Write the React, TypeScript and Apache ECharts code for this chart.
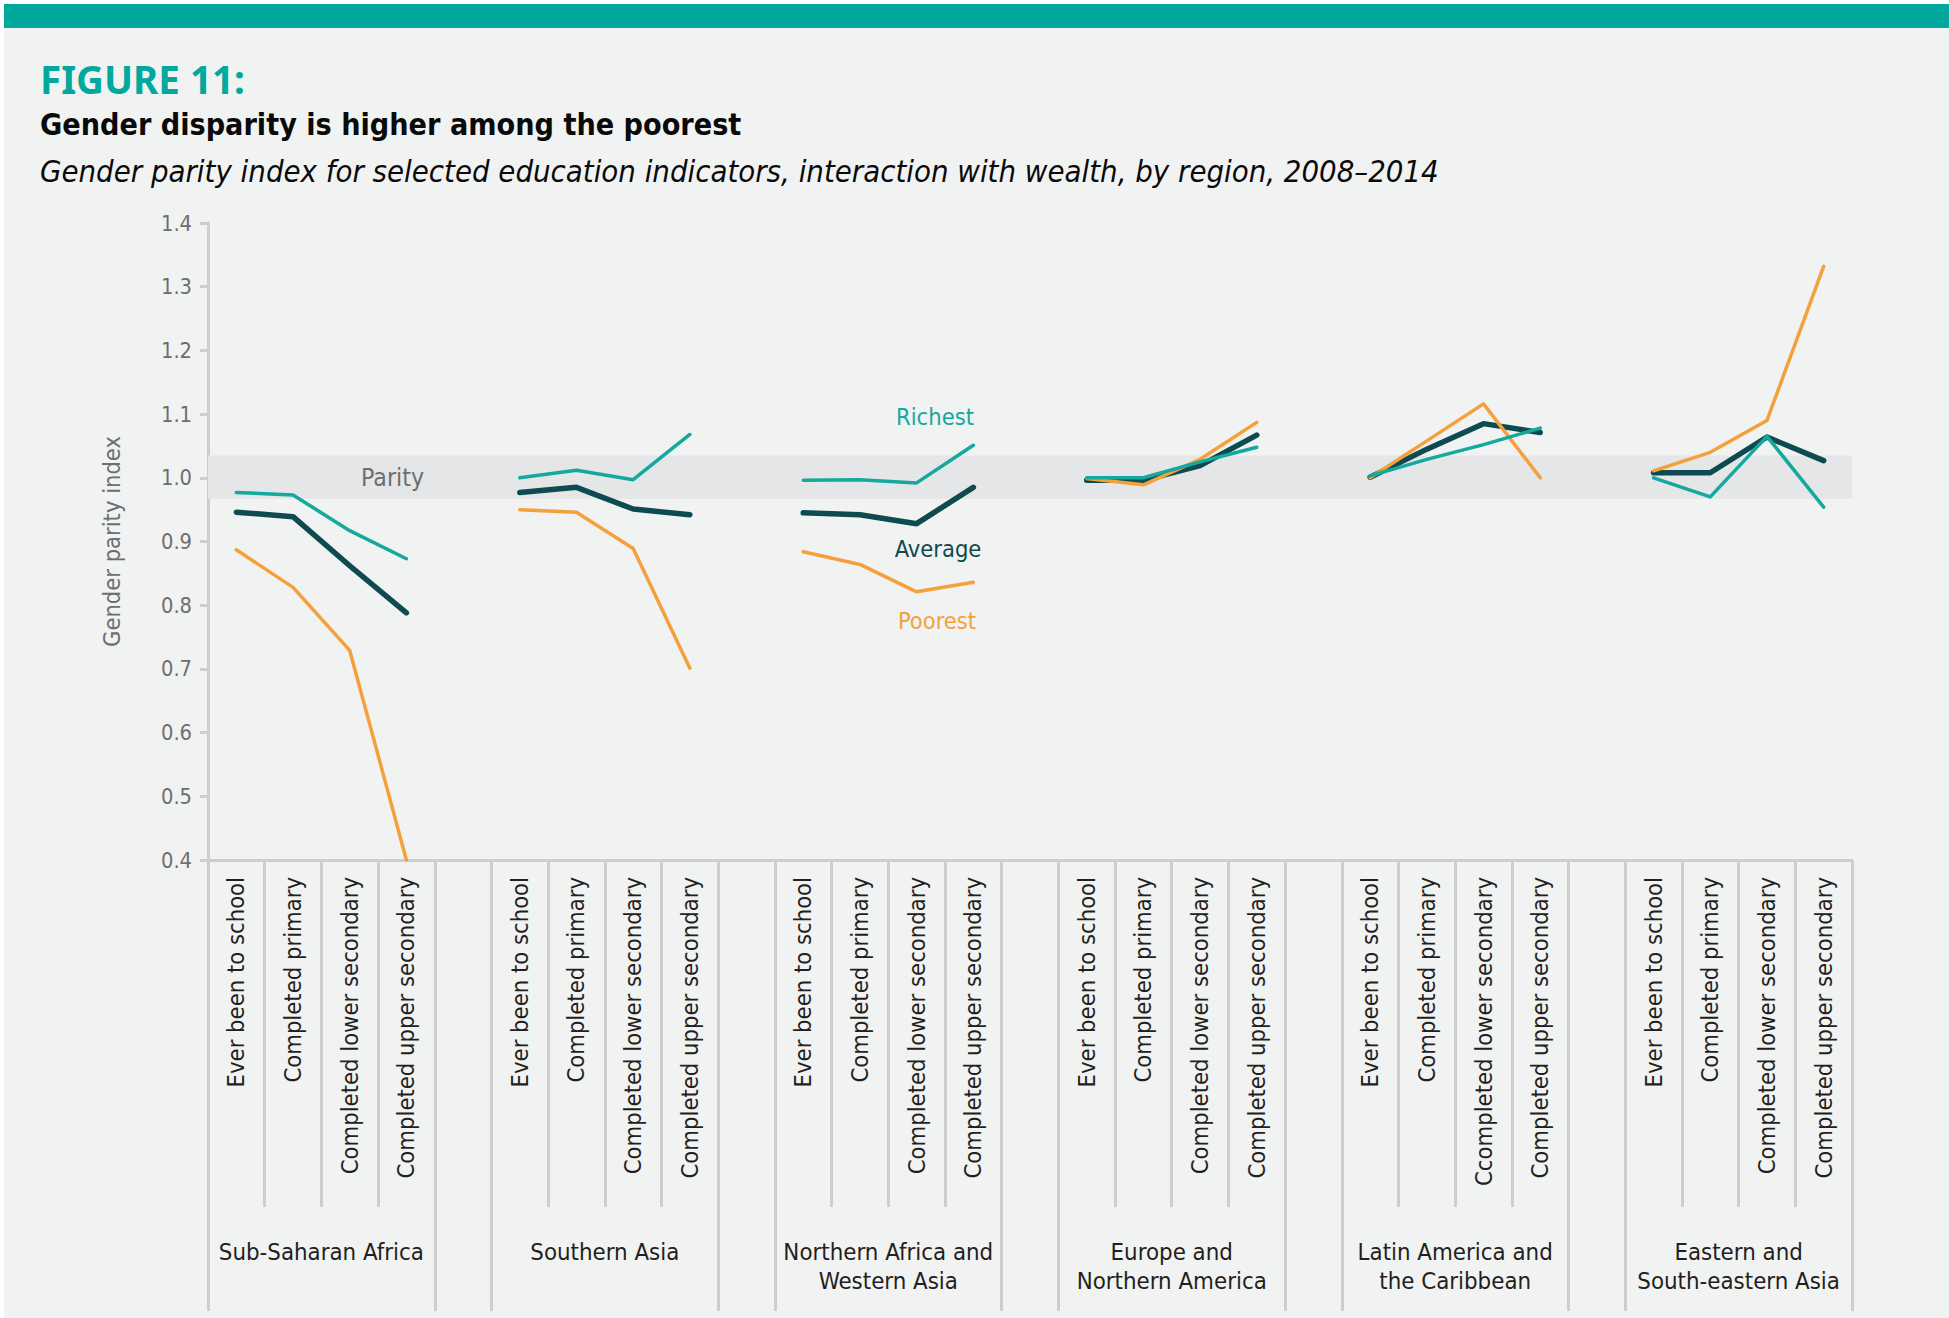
import React, { useEffect, useRef } from "react";
import * as echarts from "echarts";

const regions = [
  "Sub-Saharan Africa",
  "Southern Asia",
  "Northern Africa and\nWestern Asia",
  "Europe and\nNorthern America",
  "Latin America and\nthe Caribbean",
  "Eastern and\nSouth-eastern Asia",
];

// 29 slots: 6 groups of 4 indicators, separated by an empty slot
const categories: string[] = [
  "Ever been to school", "Completed primary", "Completed lower secondary", "Completed upper secondary", "",
  "Ever been to school", "Completed primary", "Completed lower secondary", "Completed upper secondary", "",
  "Ever been to school", "Completed primary", "Completed lower secondary", "Completed upper secondary", "",
  "Ever been to school", "Completed primary", "Completed lower secondary", "Completed upper secondary", "",
  "Ever been to school", "Completed primary", "Ccompleted lower secondary", "Completed upper secondary", "",
  "Ever been to school", "Completed primary", "Completed lower secondary", "Completed upper secondary",
];

const richest = [
  0.977, 0.973, 0.917, 0.873, null,
  1.0, 1.012, 0.997, 1.068, null,
  0.996, 0.997, 0.992, 1.051, null,
  1.0, 1.0, 1.025, 1.048, null,
  1.003, 1.029, 1.052, 1.078, null,
  1.0, 0.97, 1.065, 0.954,
];

const average = [
  0.946, 0.939, 0.862, 0.788, null,
  0.977, 0.985, 0.951, 0.942, null,
  0.945, 0.942, 0.928, 0.985, null,
  0.996, 0.996, 1.019, 1.067, null,
  1.001, 1.045, 1.085, 1.071, null,
  1.008, 1.008, 1.064, 1.027,
];

const poorest = [
  0.887, 0.828, 0.729, 0.4, null,
  0.95, 0.946, 0.889, 0.701, null,
  0.884, 0.864, 0.821, 0.836, null,
  0.999, 0.989, 1.029, 1.087, null,
  1.0, 1.058, 1.116, 1.0, null,
  1.011, 1.04, 1.09, 1.332,
];

const parityBand = [0.967, 1.035];
const yTicks = [0.4, 0.5, 0.6, 0.7, 0.8, 0.9, 1.0, 1.1, 1.2, 1.3, 1.4];

// half-slot axis (boundaries) used for tick lines and region labels
const halfSlots: string[] = Array.from({ length: 59 }, (_, k) =>
  k % 10 === 4 ? regions[(k - 4) / 10] : ""
);

const FONT = "'Liberation Sans Narrow', 'Noto Sans Condensed', 'DejaVu Sans Condensed', 'DejaVu Sans', sans-serif";
const HEAD_FONT = "'Noto Sans', 'Open Sans', sans-serif";
const TEAL = "#14A89E";
const DARK = "#0D4B50";
const ORANGE = "#F5A03B";
const GRID_GRAY = "#CDCECF";
const TEXT_GRAY = "#6D6E71";
const TEXT_DARK = "#231F20";

function fit(text: string, target: number, weight = "normal", style = "normal", family = FONT) {
  const ctx = document.createElement("canvas").getContext("2d");
  if (!ctx) return 24;
  ctx.font = `${style} ${weight} 100px ${family}`;
  const w = ctx.measureText(text).width || 1;
  return Math.round((target / w) * 1000) / 10;
}

export default function App() {
  const ref = useRef<HTMLDivElement>(null);

  useEffect(() => {
    document.body.style.margin = "0";
    if (!ref.current) return;
    const chart = echarts.init(ref.current, undefined, { renderer: "svg" });

    const figSize = fit("FIGURE 11:", 205, "bold", "normal", HEAD_FONT);
    const titleSize = fit("Gender disparity is higher among the poorest", 701, "bold");
    const subtitle =
      "Gender parity index for selected education indicators, interaction with wealth, by region, 2008\u20132014";
    const subSize = fit(subtitle, 1397, "normal", "italic");
    const catSize = fit("Completed upper secondary", 302);
    const regionSize = fit("Sub-Saharan Africa", 205);
    const labelSize = fit("Richest", 78);
    const paritySize = fit("Parity", 63);
    const nameSize = fit("Gender parity index", 211);
    const tickSize = fit("0.8", 31);

    const lineSeries = (name: string, data: (number | null)[], color: string, width: number, z: number) => ({
      name,
      type: "line",
      data,
      xAxisIndex: 0,
      yAxisIndex: 0,
      symbol: "none",
      connectNulls: false,
      z,
      lineStyle: { color, width, cap: "round", join: "round" },
    });

    const option: any = {
      animation: false,
      backgroundColor: "#F1F2F2",
      textStyle: { fontFamily: FONT },
      grid: { left: 208, right: 97, top: 223, bottom: 458, containLabel: false },
      xAxis: [
        {
          type: "category",
          position: "bottom",
          data: categories,
          boundaryGap: true,
          axisLine: { show: true, lineStyle: { color: GRID_GRAY, width: 3 } },
          axisTick: { show: false },
          axisLabel: {
            interval: 0,
            rotate: 90,
            margin: 17,
            fontSize: catSize,
            color: TEXT_DARK,
            fontFamily: FONT,
          },
          splitLine: { show: false },
        },
        {
          type: "category",
          position: "bottom",
          data: halfSlots,
          boundaryGap: false,
          axisLine: { show: false },
          axisTick: {
            show: true,
            length: 347,
            interval: (k: number) => k % 10 === 2 || k % 10 === 4 || k % 10 === 6,
            lineStyle: { color: GRID_GRAY, width: 3 },
          },
          axisLabel: { show: false },
          splitLine: { show: false },
        },
        {
          type: "category",
          position: "bottom",
          data: halfSlots,
          boundaryGap: false,
          axisLine: { show: false },
          axisTick: {
            show: true,
            length: 451,
            interval: (k: number) => k % 10 === 0 || k % 10 === 8,
            lineStyle: { color: GRID_GRAY, width: 3 },
          },
          axisLabel: {
            interval: 0,
            margin: 377,
            fontSize: regionSize,
            lineHeight: 29,
            color: TEXT_DARK,
            fontFamily: FONT,
            align: "center",
            verticalAlign: "top",
          },
          splitLine: { show: false },
        },
      ],
      yAxis: {
        type: "value",
        min: yTicks[0],
        max: yTicks[yTicks.length - 1],
        interval: 0.1,
        name: "Gender parity index",
        nameLocation: "middle",
        nameRotate: 90,
        nameGap: 84,
        nameTextStyle: { fontSize: nameSize, color: TEXT_GRAY, fontFamily: FONT },
        axisLine: { show: true, lineStyle: { color: GRID_GRAY, width: 3 } },
        axisTick: { show: true, length: 8, lineStyle: { color: GRID_GRAY, width: 3 } },
        axisLabel: {
          fontSize: tickSize,
          color: TEXT_GRAY,
          margin: 16,
          fontFamily: FONT,
          formatter: (v: number) => v.toFixed(1),
        },
        splitLine: { show: false },
      },
      series: [
        {
          ...lineSeries("Average", average, DARK, 5.5, 3),
          markArea: {
            silent: true,
            itemStyle: { color: "#E5E6E7" },
            label: {
              show: true,
              position: "insideLeft",
              distance: 153,
              fontSize: paritySize,
              color: TEXT_GRAY,
              fontFamily: FONT,
            },
            data: [[{ yAxis: parityBand[0], name: "Parity" }, { yAxis: parityBand[1] }]],
          },
        },
        lineSeries("Poorest", poorest, ORANGE, 3.5, 4),
        lineSeries("Richest", richest, TEAL, 3.5, 5),
      ],
      graphic: [
        { type: "rect", shape: { x: 0, y: 0, width: 4, height: 1318 }, style: { fill: "#FFFFFF" }, silent: true },
        { type: "rect", shape: { x: 0, y: 0, width: 1949, height: 4 }, style: { fill: "#FFFFFF" }, silent: true },
        { type: "rect", shape: { x: 4, y: 4, width: 1945, height: 24 }, style: { fill: "#00A89D" }, silent: true },
        {
          type: "text",
          x: 40,
          y: 79,
          style: {
            text: "FIGURE 11:",
            fontSize: figSize,
            fontWeight: "bold",
            fill: "#00A89D",
            fontFamily: HEAD_FONT,
            verticalAlign: "middle",
          },
        },
        {
          type: "text",
          x: 40,
          y: 124,
          style: {
            text: "Gender disparity is higher among the poorest",
            fontSize: titleSize,
            fontWeight: "bold",
            fill: "#0A0A0A",
            fontFamily: FONT,
            verticalAlign: "middle",
          },
        },
        {
          type: "text",
          x: 40,
          y: 171,
          style: {
            text: subtitle,
            fontSize: subSize,
            fontStyle: "italic",
            fill: "#0A0A0A",
            fontFamily: FONT,
            verticalAlign: "middle",
          },
        },
        {
          type: "text",
          x: 935,
          y: 417,
          style: { text: "Richest", fontSize: labelSize, fill: TEAL, fontFamily: FONT, align: "center", verticalAlign: "middle" },
        },
        {
          type: "text",
          x: 938,
          y: 549,
          style: { text: "Average", fontSize: labelSize, fill: DARK, fontFamily: FONT, align: "center", verticalAlign: "middle" },
        },
        {
          type: "text",
          x: 937,
          y: 621,
          style: { text: "Poorest", fontSize: labelSize, fill: ORANGE, fontFamily: FONT, align: "center", verticalAlign: "middle" },
        },
      ],
    };

    chart.setOption(option);
    return () => chart.dispose();
  }, []);

  return <div ref={ref} style={{ width: 1949, height: 1318 }} />;
}
